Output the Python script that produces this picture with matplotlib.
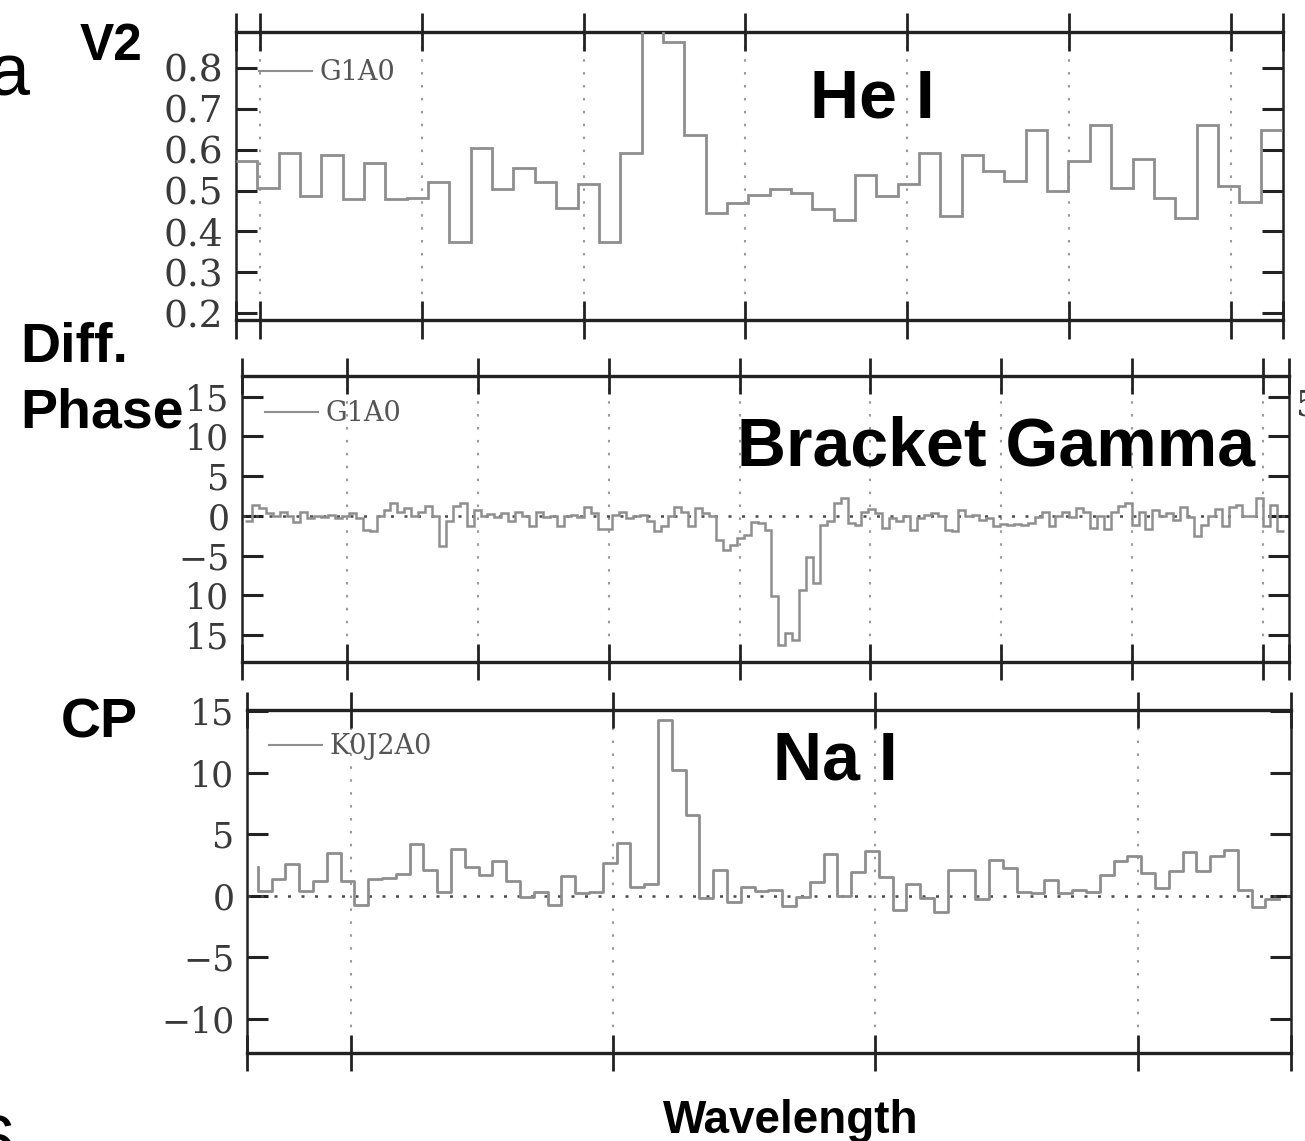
import numpy as np
import matplotlib
matplotlib.use("Agg")
import matplotlib.pyplot as plt
from matplotlib.lines import Line2D

# ---------------- data ----------------
# Panel 1: V2 around He I, baseline G1A0 (one value per spectral channel)
v2_values = [0.571, 0.507, 0.592, 0.486, 0.588, 0.478, 0.568, 0.478, 0.482, 0.522,
             0.373, 0.605, 0.503, 0.556, 0.522, 0.458, 0.515, 0.373, 0.592, 0.95,
             0.863, 0.637, 0.446, 0.47, 0.49, 0.503, 0.495, 0.454, 0.429, 0.539,
             0.486, 0.515, 0.592, 0.437, 0.588, 0.547, 0.523, 0.649, 0.498, 0.571,
             0.661, 0.507, 0.576, 0.481, 0.433, 0.661, 0.511, 0.473, 0.649]
v2_label = "G1A0"
v2_ticks = [0.2, 0.3, 0.4, 0.5, 0.6, 0.7, 0.8]
v2_ticklabels = ["0.2", "0.3", "0.4", "0.5", "0.6", "0.7", "0.8"]

# Panel 2: differential phase around Bracket Gamma, baseline G1A0
dphi_values = [-0.71, 1.38, 0.96, 0.33, -0.08, 0.54, -0.08, -0.84, 0.54, -0.29,
               0.0, -0.17, 0.08, -0.29, 0.0, 0.33, -0.29, -1.76, -1.97, -0.08,
               0.75, 1.67, 0.54, 0.96, -0.08, 0.54, 1.26, -0.08, -3.85, -0.71,
               1.26, 1.59, -1.34, 0.75, 0.0, 0.25, -0.17, 0.33, -0.71, 0.54,
               -0.08, -1.34, 0.54, -0.17, 0.0, -1.34, 0.0, 0.13, -0.17, 1.17,
               0.33, -1.67, -1.67, 0.13, 0.54, -0.29, 0.0, 0.13, -0.71, -1.97,
               -1.34, 0.0, 1.17, 0.54, -1.34, 0.96, 0.33, -0.08, -3.01, -4.35,
               -3.64, -2.8, -2.38, -0.84, -0.92, -1.76,
               -10.1, -16.2, -14.8, -15.6, -9.3, -5.2, -8.45, -1.13, -0.71, 1.67,
               2.22, -0.92, -1.13, 0.54, 0.84, 0.33, -1.55, -0.29, -0.71, -0.08,
               -1.76, -0.29, 0.13, 0.33, -0.08, -1.76, -1.97, 0.67, -0.08, 0.13,
               -0.5, -0.29, -1.34, -1.0, -1.13, -1.0, -1.13, -0.92, -0.17, 0.54,
               -1.34, 0.0, 0.54, -0.17, 0.96, 0.54, -1.55, -0.08, -1.67, 0.54,
               1.26, 1.59, -1.13, 0.54, -1.67, 0.75, -0.08, 0.33, -0.5, 1.17,
               -0.17, -2.59, -1.13, -0.08, 0.84, -1.34, 1.17, 1.38, -0.08, -0.08,
               2.22, -1.34, 1.38, -1.97]
dphi_label = "G1A0"
dphi_ticks = [-15, -10, -5, 0, 5, 10, 15]
dphi_ticklabels = ["15", "10", "\u22125", "0", "5", "10", "15"]

# Panel 3: closure phase around Na I, triangle K0J2A0
cp_first = 2.3
cp_values = [0.41, 1.37, 2.54, 0.41, 1.23, 3.5, 1.23, -0.77, 1.37, 1.4,
             1.78, 4.18, 2.05, 0.33, 3.77, 2.32, 1.69, 2.79, 1.17, -0.14,
             0.27, -0.77, 1.58, 0.22, 0.33, 2.68, 4.32, 0.68, 0.96, 14.3,
             10.2, 6.56, -0.22, 2.05, -0.49, 0.68, 0.41, 0.49, -0.82, -0.14,
             1.15, 3.36, 0.0, 1.9, 3.6, 1.5, -1.15, 0.96, -0.2, -1.37,
             2.05, 2.05, -0.27, 2.87, 2.24, 0.27, 0.22, 1.31, 0.22, 0.46,
             0.33, 1.64, 2.81, 3.2, 1.86, 0.6, 1.97, 3.55, 1.97, 3.2,
             3.69, 0.49, -0.96, -0.3]
cp_label = "K0J2A0"
cp_ticks = [-10, -5, 0, 5, 10, 15]
cp_ticklabels = ["\u221210", "\u22125", "0", "5", "10", "15"]

# ---------------- style ----------------
W, H = 1305, 1141
DPI = 100
LINE_C = "#8e8e8e"
AX_C = "#222222"
TICKLAB_C = "#3a3a3a"
SERIF = "DejaVu Serif"
SANS = "Liberation Sans"

plt.rcParams["font.family"] = [SERIF, "DejaVu Sans"]

fig = plt.figure(figsize=(W / DPI, H / DPI), dpi=DPI)
fig.patch.set_facecolor("white")


def rect(l, t, r, b):
    return [l / W, 1 - b / H, (r - l) / W, (b - t) / H]


def style_axes(ax, xlim, xticks, ylim, yticks, yticklabels, labsize, xtick_len):
    ax.set_xlim(*xlim)
    ax.set_ylim(*ylim)
    ax.set_xticks(list(xticks) + [xlim[0], xlim[1]])
    ax.set_yticks(yticks)
    ax.set_yticklabels(yticklabels, fontsize=labsize, color=TICKLAB_C, family=SERIF)
    ax.tick_params(axis="x", direction="inout", length=xtick_len, width=2.0,
                   top=True, bottom=True, labelbottom=False, color=AX_C)
    ax.tick_params(axis="y", direction="in", length=15, width=2.2,
                   left=True, right=True, color=AX_C, pad=9)
    for s in ("top", "bottom"):
        ax.spines[s].set_linewidth(2.4)
        ax.spines[s].set_color(AX_C)
    for s in ("left", "right"):
        ax.spines[s].set_linewidth(1.8)
        ax.spines[s].set_color(AX_C)
    for xt in xticks:
        ax.axvline(xt, color="#9a9a9a", lw=1.5, ls=(0, (1.2, 5.0)), zorder=1)


def add_legend(ax, label, anchor):
    h = Line2D([], [], color=LINE_C, lw=1.5)
    leg = ax.legend([h], [label], loc="upper left", bbox_to_anchor=anchor,
                    frameon=False, borderpad=0, borderaxespad=0,
                    handlelength=1.95, handletextpad=0.3,
                    prop={"family": SERIF, "size": 19.5})
    for t in leg.get_texts():
        t.set_color("#555555")


# ---------- Panel 1 ----------
ax1 = fig.add_axes(rect(236, 32, 1283, 320))
edges1 = np.arange(len(v2_values) + 1)
ax1.stairs(v2_values, edges1, baseline=None, color=LINE_C, lw=2.0, zorder=3)
ticks1 = [1.124 + 7.581 * k for k in range(7)]
style_axes(ax1, (0, 49.05), ticks1, (0.183, 0.888), v2_ticks, v2_ticklabels, 27, 28)
add_legend(ax1, v2_label, (0.022, 0.905))

# ---------- Panel 2 ----------
ax2 = fig.add_axes(rect(242, 376, 1289, 662))
edges2 = np.arange(len(dphi_values) + 1)
ax2.stairs(dphi_values, edges2, baseline=None, color=LINE_C, lw=1.8, zorder=3)
ticks2 = [14.72 + 18.89 * k for k in range(8)]
style_axes(ax2, (-0.433, 150.72), ticks2, (-18.4, 17.6), dphi_ticks, dphi_ticklabels, 25, 26)
ax2.axhline(0, color="#4a4a4a", lw=1.8, ls=(0, (1.2, 4.2)), zorder=2)
add_legend(ax2, dphi_label, (0.022, 0.915))

# ---------- Panel 3 ----------
ax3 = fig.add_axes(rect(247, 710, 1291, 1053))
edges3 = np.arange(len(cp_values) + 1)
ax3.step(edges3, [cp_first] + cp_values, where="pre", color=LINE_C, lw=2.0, zorder=3)
ticks3 = [6.75 + 19.0 * k for k in range(4)]
style_axes(ax3, (-0.78, 74.86), ticks3, (-12.8, 15.1), cp_ticks, cp_ticklabels, 25, 26)
ax3.axhline(0, color="#4a4a4a", lw=1.8, ls=(0, (1.2, 4.2)), zorder=2)
add_legend(ax3, cp_label, (0.021, 0.933))


# ---------- annotation text ----------
def ftext(x, y, s, size, weight="bold", ha="left", va="baseline", family=SANS, color="black"):
    fig.text(x / W, 1 - y / H, s, fontsize=size, fontweight=weight, ha=ha, va=va,
             family=family, color=color)


ftext(80, 60, "V2", 37)
ftext(810, 118, "He I", 49)
ftext(20, 362, "Diff.", 40)
ftext(20, 428, "Phase", 40)
ftext(737, 465, "Bracket Gamma", 49)
ftext(61, 737, "CP", 40)
ftext(773, 780, "Na I", 49)
ftext(663, 1133, "Wavelength", 33)
# partially visible fragments at the picture edges, as in the reference
ftext(30, 96, "a", 53, weight="normal", ha="right")
ftext(15, 1167, "6", 53, weight="normal", ha="right")
ftext(1296, 406, "5", 25, weight="normal", va="center", family=SERIF, color=TICKLAB_C)

fig.savefig("out.png", dpi=DPI)
